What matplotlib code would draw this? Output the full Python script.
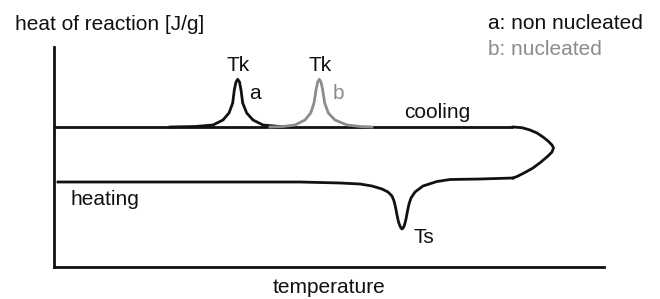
import matplotlib
matplotlib.use("Agg")
import matplotlib.pyplot as plt

plt.rcParams['font.family'] = ['Liberation Sans', 'DejaVu Sans']

# ---- data (temperature units, heat-flow units) ----
cooling_base_x = [0, 116, 236, 318, 459]
cooling_base_y = [140, 140, 140, 140, 140]

peak_a_x = [116, 141, 159, 169, 175, 178.7, 180.3, 182, 183.7, 185.5, 187, 188.7, 192.7, 199, 209, 226, 236]
peak_a_y = [140, 140.5, 142, 147, 154, 164, 177, 185, 187.7, 185, 177, 164, 154, 147, 142, 140.5, 140]

peak_b_x = [216, 229, 241, 251, 256.7, 260, 262, 263.7, 265.3, 267, 268.7, 270.7, 274.3, 281, 293, 306, 318]
peak_b_y = [140, 140.5, 142, 147, 154, 164, 177, 185, 187.7, 185, 177, 164, 154, 147, 142, 140.5, 140]

loop_x = [459, 468, 476, 483, 489, 494, 498, 499.5, 498, 494, 487, 479, 470, 463, 459]
loop_y = [140, 139.3, 137, 134, 130, 126, 122, 119, 115, 111, 105, 99, 94, 90.5, 89]

heating_x = [4, 146, 246, 286, 306, 318, 328, 334, 338, 340, 341.5, 343, 344.5, 346, 347, 348,
             349, 350, 351, 352, 353.5, 355, 357, 361, 369, 383, 396, 426, 459]
heating_y = [85, 85, 85, 84, 83, 81, 78, 75, 71, 66, 60, 52, 45, 41, 39, 38,
             39, 40.5, 44, 48, 56, 63, 69, 75, 81, 85.5, 87.5, 88, 89]

line_color = "#111111"
gray = "#8c8c8c"

fig = plt.figure(figsize=(6.6, 2.99), dpi=100)
ax = fig.add_axes([54 / 660, 32 / 299, 550 / 660, 220 / 299])
ax.set_xlim(0, 550)
ax.set_ylim(0, 220)
for s in ("top", "right"):
    ax.spines[s].set_visible(False)
for s in ("left", "bottom"):
    ax.spines[s].set_linewidth(2.0)
    ax.spines[s].set_color("#111111")
ax.set_xticks([])
ax.set_yticks([])

lw = 2.0
ax.plot(cooling_base_x, cooling_base_y, color=line_color, lw=lw, solid_capstyle="butt")
ax.plot(peak_a_x, peak_a_y, color=line_color, lw=lw)
ax.plot(peak_b_x, peak_b_y, color=gray, lw=lw)
ax.plot(loop_x, loop_y, color=line_color, lw=lw, clip_on=False)
ax.plot(heating_x, heating_y, color=line_color, lw=lw)

fs = 15
kw = dict(fontsize=fs, clip_on=False, va="baseline")
ax.text(-39, 237, "heat of reaction [J/g]", ha="left", color="#111111", **kw)
ax.text(434, 238, "a: non nucleated", ha="left", color="#111111", **kw)
ax.text(434, 212, "b: nucleated", ha="left", color=gray, **kw)
ax.text(350, 149, "cooling", ha="left", color="#111111", **kw)
ax.text(16, 62, "heating", ha="left", color="#111111", **kw)
ax.text(359, 24.3, "Ts", ha="left", color="#111111", **kw)
ax.text(184, 196.3, "Tk", ha="center", color="#111111", **kw)
ax.text(266, 196.3, "Tk", ha="center", color="#111111", **kw)
ax.text(195, 168, "a", ha="left", color="#111111", **kw)
ax.text(279, 168, "b", ha="left", color=gray, **kw)
ax.text(275, -26, "temperature", ha="center", color="#111111", **kw)

fig.savefig("out.png", dpi=100)
